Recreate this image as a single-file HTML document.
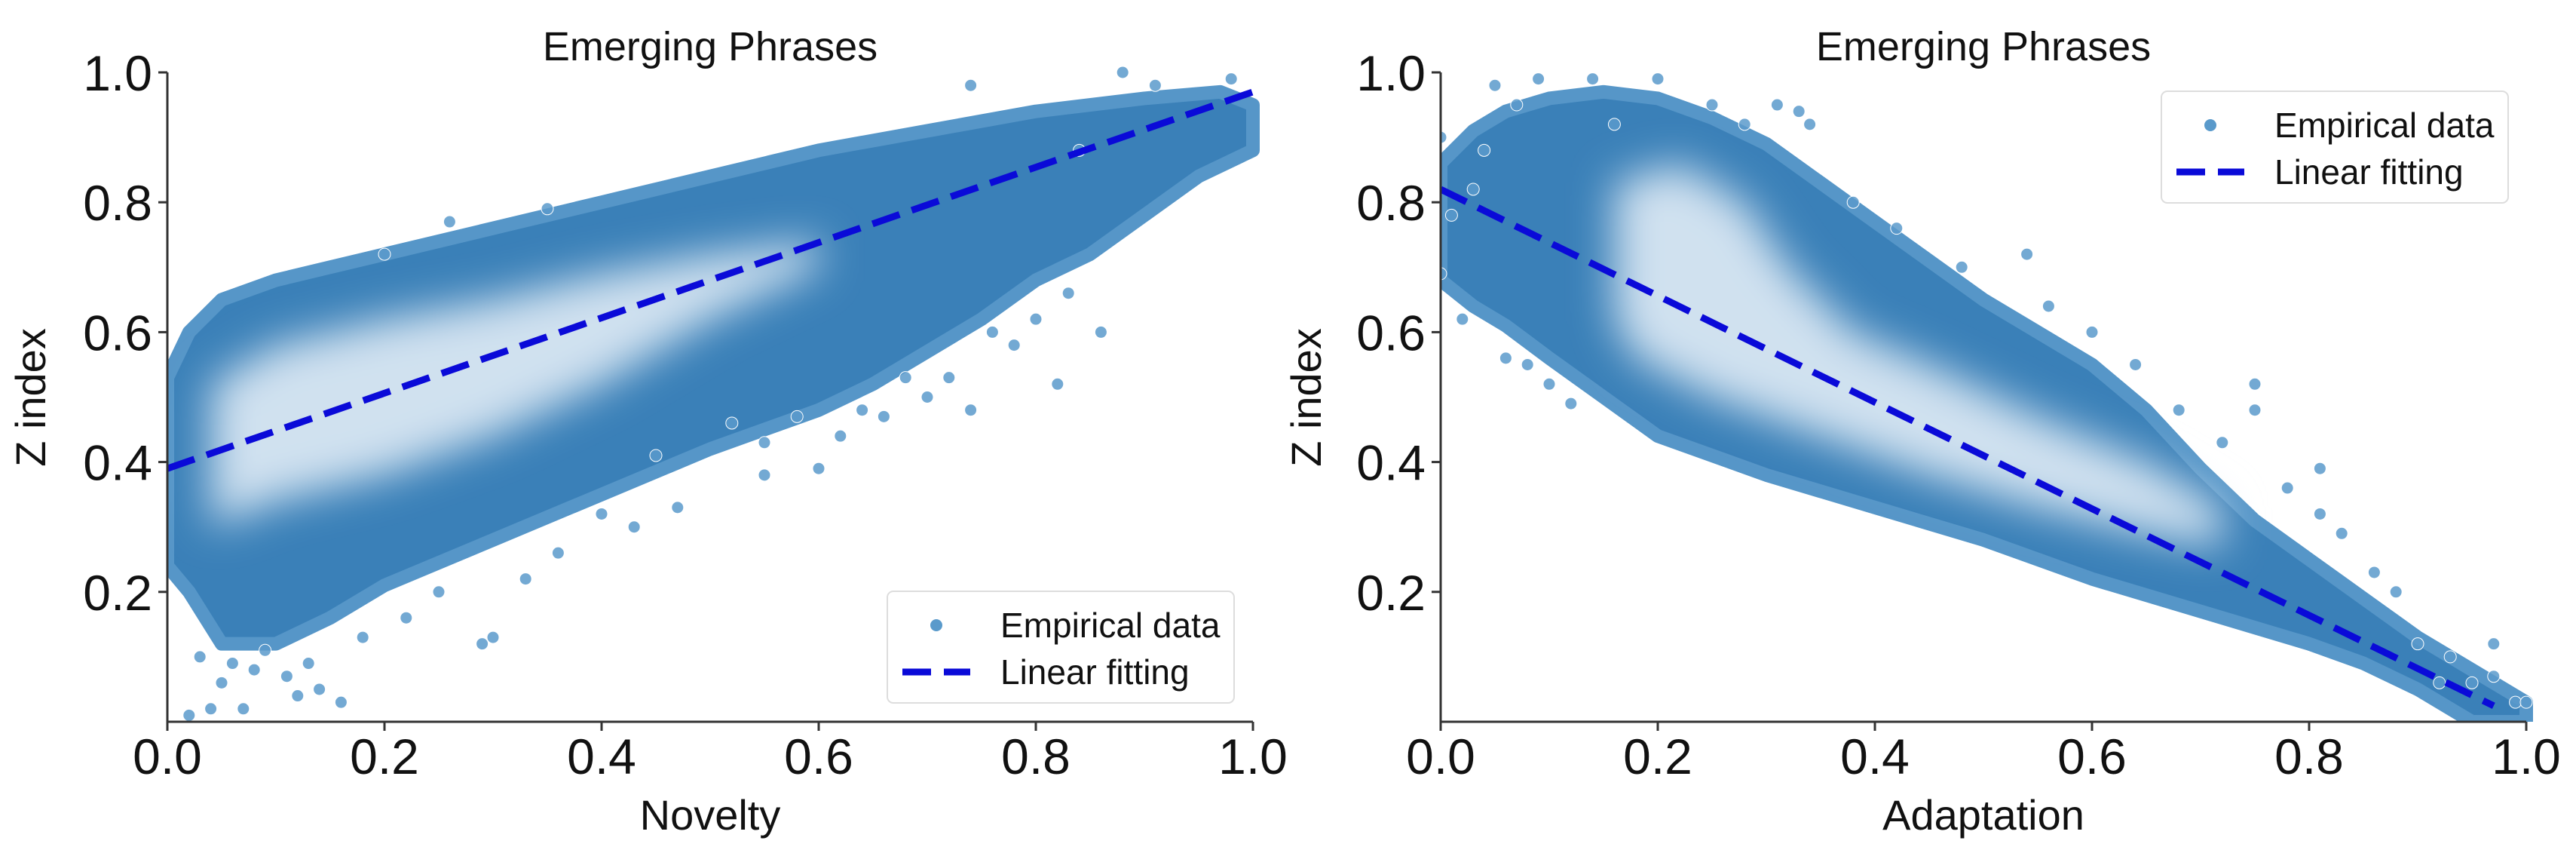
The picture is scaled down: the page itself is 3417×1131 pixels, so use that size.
<!DOCTYPE html>
<html><head><meta charset="utf-8"><style>
html,body{margin:0;padding:0;background:#fff}
svg{display:block;font-family:"Liberation Sans",sans-serif}
</style></head><body>
<svg id="fig" width="3417" height="1131" viewBox="0 0 3417 1131" xmlns="http://www.w3.org/2000/svg">
<defs><filter id="soft" x="-30%" y="-30%" width="160%" height="160%"><feGaussianBlur stdDeviation="28"/></filter></defs>
</svg>
<script>
// ---- Left panel data (Novelty vs Z index) ----
const leftUpperX=[0,0.02,0.05,0.1,0.15,0.2,0.3,0.4,0.5,0.6,0.7,0.8,0.9,0.97,1.0];
const leftUpperY=[0.53,0.6,0.65,0.68,0.70,0.72,0.76,0.80,0.84,0.88,0.91,0.94,0.96,0.97,0.95];
const leftLowerX=[1.0,0.95,0.9,0.85,0.8,0.75,0.7,0.65,0.6,0.5,0.4,0.3,0.2,0.15,0.1,0.05,0.02,0];
const leftLowerY=[0.88,0.84,0.78,0.72,0.68,0.62,0.57,0.52,0.48,0.42,0.35,0.28,0.21,0.16,0.12,0.12,0.2,0.24];
const leftLightUX=[0.04,0.1,0.2,0.3,0.4,0.5,0.6];
const leftLightUY=[0.52,0.58,0.62,0.65,0.69,0.72,0.74];
const leftLightLX=[0.6,0.5,0.4,0.3,0.2,0.1,0.04];
const leftLightLY=[0.70,0.62,0.52,0.44,0.38,0.34,0.30];
const leftOutX=[0.02,0.04,0.05,0.07,0.08,0.12,0.14,0.16,0.29,0.30,0.47,0.55,0.60,0.74,0.82,0.86,0.74,0.98,0.91,0.88,0.84,0.52,0.45,0.03,0.06,0.09,0.11,0.13,0.18,0.22,0.25,0.33,0.36,0.62,0.66,0.7,0.72,0.78,0.8,0.83,0.55,0.58,0.64,0.68,0.76,0.43,0.4,0.2,0.26,0.35];
const leftOutY=[0.01,0.02,0.06,0.02,0.08,0.04,0.05,0.03,0.12,0.13,0.33,0.38,0.39,0.48,0.52,0.60,0.98,0.99,0.98,1.0,0.88,0.46,0.41,0.1,0.09,0.11,0.07,0.09,0.13,0.16,0.2,0.22,0.26,0.44,0.47,0.5,0.53,0.58,0.62,0.66,0.43,0.47,0.48,0.53,0.6,0.3,0.32,0.72,0.77,0.79];
const leftFit=[0.39,0.97];

// ---- Right panel data (Adaptation vs Z index) ----
const rightUpperX=[0,0.03,0.06,0.1,0.15,0.2,0.25,0.3,0.35,0.4,0.45,0.5,0.55,0.6,0.65,0.7,0.75,0.8,0.85,0.9,0.95,1.0];
const rightUpperY=[0.86,0.91,0.94,0.96,0.97,0.96,0.93,0.89,0.83,0.77,0.71,0.65,0.60,0.55,0.48,0.39,0.31,0.25,0.19,0.13,0.08,0.03];
const rightLowerX=[1.0,0.95,0.9,0.85,0.8,0.7,0.6,0.5,0.4,0.3,0.2,0.15,0.1,0.06,0.03,0];
const rightLowerY=[0.0,0.0,0.05,0.09,0.12,0.17,0.22,0.28,0.33,0.38,0.44,0.50,0.56,0.61,0.64,0.68];
const rightLightUX=[0.16,0.22,0.28,0.32,0.38,0.45,0.55,0.65,0.72];
const rightLightUY=[0.83,0.86,0.80,0.70,0.60,0.55,0.47,0.40,0.33];
const rightLightLX=[0.72,0.65,0.55,0.45,0.35,0.25,0.18,0.16];
const rightLightLY=[0.27,0.29,0.33,0.38,0.44,0.50,0.56,0.62];
const rightOutX=[0.0,0.0,0.02,0.06,0.1,0.14,0.2,0.31,0.33,0.34,0.54,0.75,0.75,0.81,0.81,0.86,0.97,0.97,0.99,1.0,0.92,0.9,0.08,0.12,0.01,0.03,0.05,0.09,0.16,0.25,0.28,0.38,0.42,0.48,0.56,0.6,0.64,0.68,0.72,0.78,0.83,0.88,0.93,0.95,0.07,0.04];
const rightOutY=[0.9,0.69,0.62,0.56,0.52,0.99,0.99,0.95,0.94,0.92,0.72,0.52,0.48,0.39,0.32,0.23,0.12,0.07,0.03,0.03,0.06,0.12,0.55,0.49,0.78,0.82,0.98,0.99,0.92,0.95,0.92,0.8,0.76,0.7,0.64,0.6,0.55,0.48,0.43,0.36,0.29,0.2,0.1,0.06,0.95,0.88];
const rightFit=[0.82,0.0];
const rightFitEndX=0.97;

const ticks=[0,0.2,0.4,0.6,0.8,1.0];
const tickLabels=["0.0","0.2","0.4","0.6","0.8","1.0"];

const NS="http://www.w3.org/2000/svg";
const svg=document.getElementById('fig');
function mk(tag,attrs,parent){const e=document.createElementNS(NS,tag);for(const k in attrs)e.setAttribute(k,attrs[k]);(parent||svg).appendChild(e);return e;}

const Y0=957,Y1=96;
function panel(cfg){
  const sx=v=>cfg.x0+v*(cfg.x1-cfg.x0);
  const sy=v=>Y0-v*(Y0-Y1);
  const g=mk('g',{});
  
  
  const clip=mk('clipPath',{id:cfg.name+'-clip'},svg.querySelector('defs'));
  mk('rect',{x:cfg.x0,y:Y1-10,width:cfg.x1-cfg.x0+12,height:Y0-Y1+10},clip);
  const pg=mk('g',{'clip-path':'url(#'+cfg.name+'-clip)'},g);
  
  
  const poly=(ux,uy,lx,ly)=>ux.map((x,i)=>sx(x)+','+sy(uy[i])).concat(lx.map((x,i)=>sx(x)+','+sy(ly[i]))).join(' ');
  const band=mk('polygon',{points:poly(cfg.ux,cfg.uy,cfg.lx,cfg.ly),fill:'#3a80b8',stroke:'#5696c8','stroke-width':18,'stroke-linejoin':'round'},pg);
  
  
  const light=mk('polygon',{points:poly(cfg.lux,cfg.luy,cfg.llx,cfg.lly),fill:'#dce9f4','fill-opacity':0.92,filter:'url(#soft)'},pg);
  
  
  cfg.ox.forEach((x,i)=>{
    const c=mk('circle',{cx:sx(x),cy:sy(cfg.oy[i]),r:8,fill:'#5a9acb','fill-opacity':0.85,stroke:'#fff','stroke-width':1},pg);
    
    
  });
  const fl=mk('line',{x1:sx(0),y1:sy(cfg.fit[0]),x2:sx(cfg.fitEnd),y2:sy(cfg.fit[0]+(cfg.fit[1]-cfg.fit[0])*cfg.fitEnd),stroke:'#0a0ad8','stroke-width':9,'stroke-dasharray':'38,17'},pg);
  
  
  const ya=mk('line',{x1:cfg.x0,y1:Y1,x2:cfg.x0,y2:Y0,stroke:'#333','stroke-width':3},g);
  
  
  const xa=mk('line',{x1:cfg.x0,y1:Y0,x2:cfg.x1,y2:Y0,stroke:'#333','stroke-width':3},g);
  
  
  ticks.forEach((t,i)=>{
    mk('line',{x1:sx(t),y1:Y0,x2:sx(t),y2:Y0+12,stroke:'#333','stroke-width':3},g);
    const tx=mk('text',{x:sx(t),y:1026,'font-size':66,'text-anchor':'middle',fill:'#111'},g);
    tx.textContent=tickLabels[i];
    
    
    if(t>0){
      mk('line',{x1:cfg.x0-12,y1:sy(t),x2:cfg.x0,y2:sy(t),stroke:'#333','stroke-width':3},g);
      const ty=mk('text',{x:cfg.x0-20,y:sy(t)+24,'font-size':66,'text-anchor':'end',fill:'#111'},g);
      ty.textContent=tickLabels[i];
      
      
    }
  });
  const title=mk('text',{x:(cfg.x0+cfg.x1)/2,y:80,'font-size':54,'text-anchor':'middle',fill:'#111'},g);
  title.textContent='Emerging Phrases';
  
  
  const xl=mk('text',{x:(cfg.x0+cfg.x1)/2,y:1100,'font-size':56,'text-anchor':'middle',fill:'#111'},g);
  xl.textContent=cfg.xlabel;
  
  
  const yl=mk('text',{x:0,y:0,'font-size':56,'text-anchor':'middle',fill:'#111',transform:'translate('+cfg.ylx+',527) rotate(-90)'},g);
  yl.textContent='Z index';
  
  
  const L=cfg.leg;
  const lg=mk('g',{},g);
  
  
  mk('rect',{x:L[0],y:L[1],width:460,height:148,rx:8,fill:'#fff','fill-opacity':0.9,stroke:'#ddd','stroke-width':2},lg);
  mk('circle',{cx:L[0]+65,cy:L[1]+45,r:8,fill:'#5a9acb'},lg);
  const t1=mk('text',{x:L[0]+150,y:L[1]+61,'font-size':46,fill:'#111'},lg);
  t1.textContent='Empirical data';
  
  
  mk('line',{x1:L[0]+20,y1:L[1]+107,x2:L[0]+110,y2:L[1]+107,stroke:'#0a0ad8','stroke-width':9,'stroke-dasharray':'38,17'},lg);
  const t2=mk('text',{x:L[0]+150,y:L[1]+123,'font-size':46,fill:'#111'},lg);
  t2.textContent='Linear fitting';
  
  
}
panel({name:'novelty-panel',x0:222,x1:1662,ux:leftUpperX,uy:leftUpperY,lx:leftLowerX,ly:leftLowerY,lux:leftLightUX,luy:leftLightUY,llx:leftLightLX,lly:leftLightLY,ox:leftOutX,oy:leftOutY,fit:leftFit,fitEnd:1.0,xlabel:'Novelty',ylx:60,leg:[1177,784]});
panel({name:'adaptation-panel',x0:1911,x1:3351,ux:rightUpperX,uy:rightUpperY,lx:rightLowerX,ly:rightLowerY,lux:rightLightUX,luy:rightLightUY,llx:rightLightLX,lly:rightLightLY,ox:rightOutX,oy:rightOutY,fit:rightFit,fitEnd:rightFitEndX,xlabel:'Adaptation',ylx:1752,leg:[2867,121]});
</script>
</body></html>
